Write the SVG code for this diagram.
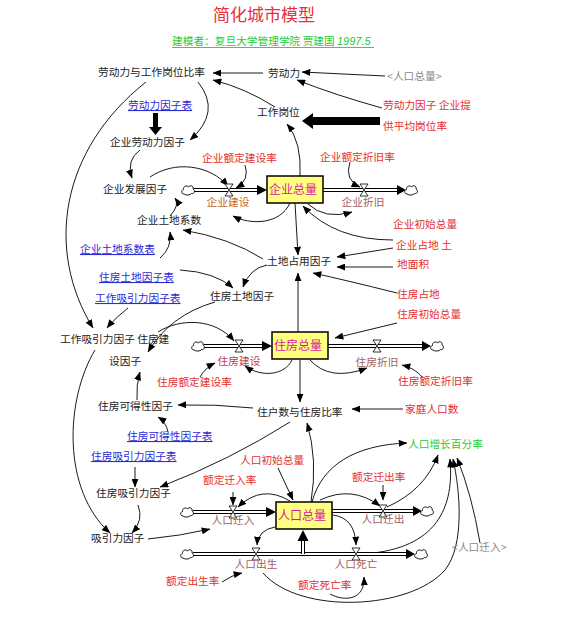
<svg xmlns="http://www.w3.org/2000/svg" xmlns:xlink="http://www.w3.org/1999/xlink" width="571" height="624" viewBox="0 0 571 624">
<style>
text{font-family:"Noto Sans CJK SC","Noto Sans",sans-serif;font-size:10.7px;fill:#222}
.r{fill:#e62e2e}
.b{fill:#2b2bd6;text-decoration:underline}
.g{fill:#22cc33}
.gr{fill:#8a8a8a}
.fl{fill:#a06060}
.st{font-size:12px;fill:#d81a9c;text-anchor:middle}
.m{text-anchor:middle}
.stock{fill:#ffff80;stroke:#000;stroke-width:1.5}
.c{fill:none;stroke:#000;stroke-width:0.9;marker-end:url(#a)}
.po{fill:none;stroke:#000;stroke-width:4}
.pi{fill:none;stroke:#fff;stroke-width:2}
.ah{fill:#000}
.valve{fill:#fff;stroke:#000;stroke-width:0.8}
.cloud{fill:#fff;stroke:#000;stroke-width:0.9}
</style>
<defs>
<marker id="a" viewBox="0 0 10 8" refX="9.5" refY="4" markerWidth="9" markerHeight="7" markerUnits="userSpaceOnUse" orient="auto"><path d="M0,0 L10,4 L0,8 z" fill="#000"/></marker>
<path id="cl" class="cloud" d="M-4,4 C-7,4 -7,0 -4.5,-0.5 C-5,-4 -1,-5 0.5,-3 C2,-5.5 6,-4 5,-1 C7.5,0 6.5,4.5 3.5,3.5 C2,5.5 -2,5.5 -4,4 Z"/>
<path id="vl" class="valve" d="M-4,-6 H4 L-4,6 H4 Z"/>
</defs>
<rect width="571" height="624" fill="#fff"/>

<g id="title">
<text x="264" y="21" style="font-size:17px;fill:#e8303a;text-anchor:middle">简化城市模型</text>
<text x="172" y="45" class="g" style="font-size:10.7px">建模者：复旦大学管理学院 贾建国</text>
<text x="337" y="45" class="g" style="font-family:'Liberation Sans',sans-serif;font-style:italic;font-size:11px">1997.5</text>
<line x1="172" y1="47.5" x2="374" y2="47.5" stroke="#22cc33" stroke-width="0.9"/>
</g>

<g id="connectors">
<path class="c" d="M263,73 L213,73"/>
<path class="c" d="M385,76 L302,72"/>
<path class="c" d="M382,108 Q335,95 297,80"/>
<path class="c" d="M275,107 Q245,88 213,80"/>
<polygon class="ah" points="380,117 313,117 313,113 302,121 313,129 313,125 380,125"/>
<path class="c" d="M198,82 Q222,112 190,140"/>
<path class="c" d="M146,82 C60,150 45,250 93,328"/>
<polygon class="ah" points="153,113 158,113 158,127 162,127 155.5,135 149,127 153,127"/>
<path class="c" d="M140,150 Q126,160 132,178"/>
<path class="c" d="M150,177 C175,160 210,165 228,186"/>
<path class="c" d="M245,165 Q250,180 236,188"/>
<path class="c" d="M300,176 Q302,142 287,124"/>
<path class="c" d="M350,162 Q344,180 360,187"/>
<path class="c" d="M170,216 Q180,205 175,198"/>
<path class="c" d="M160,258 Q172,248 170,232"/>
<path class="c" d="M290,203 C280,225 250,225 233,216"/>
<path class="c" d="M308,204 Q325,220 352,212"/>
<path class="c" d="M295,203 L298,255"/>
<path class="c" d="M393,240 Q335,240 303,206"/>
<path class="c" d="M393,248 L337,257"/>
<path class="c" d="M393,267 L337,267"/>
<path class="c" d="M397,293 Q345,280 313,273"/>
<path class="c" d="M263,259 Q230,238 183,230"/>
<path class="c" d="M267,265 Q250,268 243,287"/>
<path class="c" d="M180,270 Q215,272 233,288"/>
<path class="c" d="M298,332 L298,273"/>
<path class="c" d="M215,302 Q170,315 148,352"/>
<path class="c" d="M128,308 Q115,318 107,328"/>
<path class="c" d="M158,332 C180,318 215,318 234,341"/>
<path class="c" d="M200,377 Q205,368 215,363"/>
<path class="c" d="M292,360 C285,375 262,378 245,366"/>
<path class="c" d="M397,323 L335,338"/>
<path class="c" d="M310,360 Q330,382 367,368"/>
<path class="c" d="M423,378 Q415,368 402,365"/>
<path class="c" d="M300,360 L300,402"/>
<path class="c" d="M403,409 L352,409"/>
<path class="c" d="M253,408 Q215,404 178,405"/>
<path class="c" d="M137,400 Q136,385 140,372"/>
<path class="c" d="M168,432 Q166,422 158,417"/>
<path class="c" d="M290,422 Q230,460 160,487"/>
<path class="c" d="M311,502 Q318,460 307,423"/>
<path class="c" d="M135,467 L135,487"/>
<path class="c" d="M138,505 Q144,520 132,533"/>
<path class="c" d="M95,350 C65,400 62,490 110,533"/>
<path class="c" d="M148,539 Q180,536 210,529"/>
<path class="c" d="M233,492 L233,505"/>
<path class="c" d="M290,501 Q262,484 238,507"/>
<path class="c" d="M278,468 L293,500"/>
<path class="c" d="M275,527 Q258,530 257,545"/>
<path class="c" d="M222,582 Q232,575 242,573"/>
<path class="c" d="M320,500 Q352,485 380,506"/>
<path class="c" d="M383,485 L383,500"/>
<path class="c" d="M333,515 Q355,518 356,545"/>
<path class="c" d="M330,594 C345,602 365,600 364,577"/>
<path class="c" d="M312,502 C322,465 355,445 407,443"/>
<path class="c" d="M387,507 Q425,490 438,455"/>
<path class="c" d="M362,554 C430,550 455,515 450,459"/>
<path class="c" d="M263,573 C300,615 410,610 445,570 C465,545 460,490 453,459"/>
<path class="c" d="M480,543 Q472,495 457,458"/>
</g>

<g id="flow-qiyejianshe">
<path class="po" d="M194,190 H258"/><path class="pi" d="M194,190 H258"/>
<polygon class="ah" points="257,185 267,190 257,195"/>
<use href="#cl" x="188" y="190"/><use href="#vl" x="229" y="190"/>
<text x="228" y="206" class="m" style="fill:#c06a30">企业建设</text>
</g>
<g id="flow-qiyezhejiu">
<path class="po" d="M323,190 H398"/><path class="pi" d="M323,190 H398"/>
<polygon class="ah" points="397,185 406,190 397,195"/>
<use href="#cl" x="411" y="190"/><use href="#vl" x="364" y="190"/>
<text x="363" y="206" class="m fl">企业折旧</text>
</g>
<g id="flow-zhufangjianshe">
<path class="po" d="M204,346 H263"/><path class="pi" d="M204,346 H263"/>
<polygon class="ah" points="262,341 272,346 262,351"/>
<use href="#cl" x="198" y="346"/><use href="#vl" x="239" y="346"/>
<text x="239" y="365" class="m" style="fill:#c83a3a">住房建设</text>
</g>
<g id="flow-zhufangzhejiu">
<path class="po" d="M328,346 H423"/><path class="pi" d="M328,346 H423"/>
<polygon class="ah" points="422,341 431,346 422,351"/>
<use href="#cl" x="437" y="346"/><use href="#vl" x="377" y="346"/>
<text x="377" y="366" class="m fl">住房折旧</text>
</g>
<g id="flow-renkouqianru">
<path class="po" d="M193,512 H267"/><path class="pi" d="M193,512 H267"/>
<polygon class="ah" points="266,507 276,512 266,517"/>
<use href="#cl" x="187" y="512"/><use href="#vl" x="233" y="512"/>
<text x="233" y="524" class="m fl">人口迁入</text>
</g>
<g id="flow-renkouqianchu">
<path class="po" d="M332,511 H414"/><path class="pi" d="M332,511 H414"/>
<polygon class="ah" points="413,506 422,511 413,516"/>
<use href="#cl" x="427" y="511"/><use href="#vl" x="383" y="511"/>
<text x="383" y="523" class="m fl">人口迁出</text>
</g>
<g id="flow-renkouchusheng-siwang">
<path class="po" d="M193,554 H407"/><path class="pi" d="M193,554 H407"/>
<polygon class="ah" points="406,549 415,554 406,559"/>
<path class="po" d="M303,554 V540"/><path class="pi" d="M303,555 V540"/>
<polygon class="ah" points="297.5,541 303,530 308.5,541"/>
<use href="#cl" x="187" y="554"/><use href="#cl" x="421" y="554"/>
<use href="#vl" x="256" y="554"/><use href="#vl" x="356" y="554"/>
<text x="256" y="568" class="m fl">人口出生</text>
<text x="356" y="568" class="m fl">人口死亡</text>
</g>

<g id="stock-qiye"><rect x="267" y="176" width="56" height="27" class="stock"/><text x="293" y="194" class="st">企业总量</text></g>
<g id="stock-zhufang"><rect x="272" y="332" width="56" height="27" class="stock"/><text x="298" y="350" class="st">住房总量</text></g>
<g id="stock-renkou"><rect x="276" y="502" width="56" height="27" class="stock"/><text x="302" y="520" class="st">人口总量</text></g>

<g id="n1"><text x="98" y="76">劳动力与工作岗位比率</text></g>
<g id="n2"><text x="268" y="77">劳动力</text></g>
<g id="n3"><text x="387" y="80" class="gr">&lt;人口总量&gt;</text></g>
<g id="n4"><text x="257" y="116">工作岗位</text></g>
<g id="n5"><text x="128" y="109" class="b">劳动力因子表</text></g>
<g id="n6"><text x="383" y="109" class="r">劳动力因子 企业提</text><text x="383" y="130" class="r">供平均岗位率</text></g>
<g id="n7"><text x="110" y="146">企业劳动力因子</text></g>
<g id="n8"><text x="202" y="162" class="r">企业额定建设率</text></g>
<g id="n9"><text x="320" y="161" class="r">企业额定折旧率</text></g>
<g id="n10"><text x="103" y="193">企业发展因子</text></g>
<g id="n11"><text x="137" y="224">企业土地系数</text></g>
<g id="n12"><text x="80" y="253" class="b">企业土地系数表</text></g>
<g id="n13"><text x="267" y="265">土地占用因子</text></g>
<g id="n14"><text x="393" y="228" class="r">企业初始总量</text></g>
<g id="n15"><text x="396" y="249" class="r">企业占地 土</text><text x="397" y="268" class="r">地面积</text></g>
<g id="n16"><text x="397" y="298" class="r">住房占地</text></g>
<g id="n17"><text x="397" y="318" class="r">住房初始总量</text></g>
<g id="n18"><text x="99" y="281" class="b">住房土地因子表</text></g>
<g id="n19"><text x="95" y="302" class="b">工作吸引力因子表</text></g>
<g id="n20"><text x="210" y="300">住房土地因子</text></g>
<g id="n21"><text x="60" y="343">工作吸引力因子 住房建</text><text x="109" y="365">设因子</text></g>
<g id="n22"><text x="157" y="386" class="r">住房额定建设率</text></g>
<g id="n23"><text x="398" y="385" class="r">住房额定折旧率</text></g>
<g id="n24"><text x="98" y="410">住房可得性因子</text></g>
<g id="n25"><text x="257" y="416">住户数与住房比率</text></g>
<g id="n26"><text x="405" y="413" class="r">家庭人口数</text></g>
<g id="n27"><text x="127" y="440" class="b">住房可得性因子表</text></g>
<g id="n28"><text x="91" y="460" class="b">住房吸引力因子表</text></g>
<g id="n29"><text x="408" y="448" class="g">人口增长百分率</text></g>
<g id="n30"><text x="240" y="464" class="r">人口初始总量</text></g>
<g id="n31"><text x="203" y="484" class="r">额定迁入率</text></g>
<g id="n32"><text x="352" y="481" class="r">额定迁出率</text></g>
<g id="n33"><text x="96" y="497">住房吸引力因子</text></g>
<g id="n34"><text x="91" y="542">吸引力因子</text></g>
<g id="n35"><text x="166" y="585" class="r">额定出生率</text></g>
<g id="n36"><text x="298" y="589" class="r">额定死亡率</text></g>
<g id="n37"><text x="452" y="551" class="gr">&lt;人口迁入&gt;</text></g>
</svg>
